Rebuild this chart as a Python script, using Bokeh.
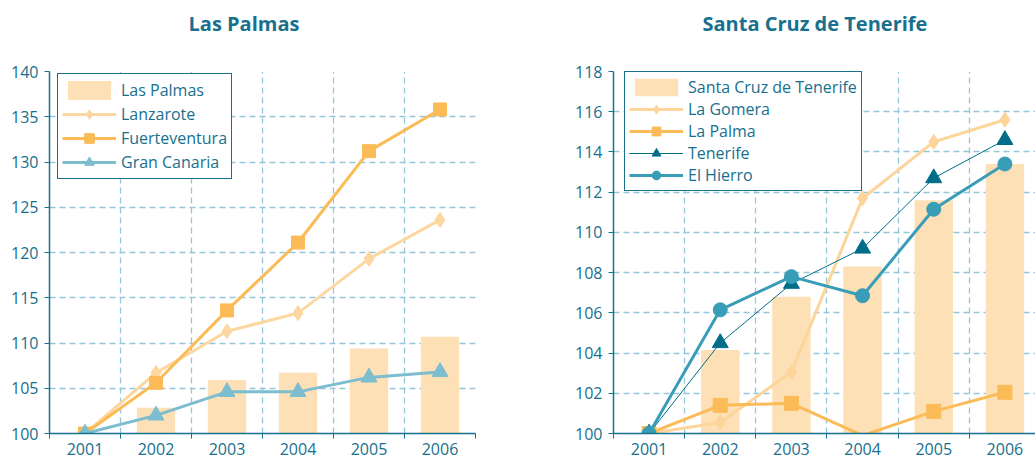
from bokeh.plotting import figure
from bokeh.layouts import row
from bokeh.models import Range1d, FixedTicker, Legend, LegendItem, Title
from bokeh.embed import file_html
from bokeh.resources import INLINE

years = ["2001", "2002", "2003", "2004", "2005", "2006"]

# Las Palmas province
las_palmas = [100, 102.85, 105.9, 106.7, 109.4, 110.7]
lanzarote = [100, 106.7, 111.3, 113.3, 119.3, 123.6]
fuerteventura = [100, 105.6, 113.6, 121.1, 131.2, 135.8]
gran_canaria = [100, 102.0, 104.6, 104.6, 106.2, 106.8]

# Santa Cruz de Tenerife province
santa_cruz = [100, 104.15, 106.8, 108.3, 111.6, 113.4]
la_gomera = [100, 100.55, 103.05, 111.7, 114.5, 115.6]
la_palma = [100, 101.4, 101.5, 99.9, 101.1, 102.05]
tenerife = [100, 104.5, 107.45, 109.2, 112.7, 114.6]
el_hierro = [100, 106.15, 107.8, 106.85, 111.15, 113.4]

left_ticks = [100, 105, 110, 115, 120, 125, 130, 135, 140]
right_ticks = [100, 102, 104, 106, 108, 110, 112, 114, 116, 118]

TEAL = "#17708e"
GRID = "#93c7d9"
BAR = "#fde0b5"
FONT = "Open Sans"


def make_fig(title, bar_name, bars, series, yticks, width, mbl, mbr, xend,
             legend_xy, glyph_h, title_offset):
    xs = [i + 0.5 for i in range(len(years))]
    y0, y1 = yticks[0], yticks[-1]
    p = figure(width=width, height=464, output_backend="svg", toolbar_location=None,
               title=None,
               x_range=Range1d(0, xend), y_range=Range1d(y0, y1),
               min_border_left=mbl, min_border_right=mbr,
               min_border_top=71, min_border_bottom=31)
    p.outline_line_color = None
    p.background_fill_color = "white"
    p.border_fill_color = "white"

    # spacer between frame and title (nearest the frame)
    p.add_layout(Title(text=" ", text_font_size="10px", standoff=20,
                       vertical_align="top"), "above")
    p.add_layout(Title(text=title, align="left", offset=title_offset,
                       vertical_align="top", text_font=FONT, text_font_size="20px",
                       text_font_style="bold", text_color=TEAL, standoff=0), "above")

    # x axis
    xa = p.xaxis[0]
    xa.ticker = FixedTicker(ticks=xs, minor_ticks=list(range(0, 7)))
    xa.major_label_overrides = {x: y for x, y in zip(xs, years)}
    xa.major_tick_out = 0
    xa.major_tick_in = 0
    xa.minor_tick_out = 5
    xa.minor_tick_in = 0
    xa.minor_tick_line_color = TEAL
    xa.axis_line_color = TEAL
    xa.axis_line_width = 1.5
    xa.major_label_text_color = TEAL
    xa.major_label_text_font = FONT
    xa.major_label_text_font_size = "16px"
    xa.major_label_standoff = 4

    ya = p.yaxis[0]
    ya.ticker = FixedTicker(ticks=yticks, minor_ticks=[])
    ya.major_tick_out = 5
    ya.major_tick_in = 0
    ya.major_tick_line_color = TEAL
    ya.axis_line_color = TEAL
    ya.axis_line_width = 1.5
    ya.major_label_text_color = TEAL
    ya.major_label_text_font = FONT
    ya.major_label_text_font_size = "16px"
    ya.major_label_standoff = 6

    p.xgrid.ticker = FixedTicker(ticks=[1, 2, 3, 4, 5, 6])
    for g in (p.xgrid[0], p.ygrid[0]):
        g.grid_line_color = GRID
        g.grid_line_dash = "6 4"
        g.grid_line_width = 1.3

    items = []
    rb = p.vbar(x=xs, top=bars, bottom=y0, width=0.54, fill_color=BAR, line_color=None)
    items.append(LegendItem(label=bar_name, renderers=[rb]))
    for name, vals, color, lw, marker, size in series:
        rl = p.line(xs, vals, line_color=color, line_width=lw)
        mx = [x for x, v in zip(xs, vals) if v >= y0]
        mv = [v for v in vals if v >= y0]
        rs = p.scatter(mx, mv, marker=marker, size=size, fill_color=color, line_color=color)
        items.append(LegendItem(label=name, renderers=[rl, rs]))

    leg = Legend(items=items, location=legend_xy)
    leg.label_text_font = FONT
    leg.label_text_font_size = "16px"
    leg.label_text_color = TEAL
    leg.border_line_color = TEAL
    leg.border_line_width = 1.2
    leg.border_line_alpha = 1
    leg.background_fill_color = "white"
    leg.background_fill_alpha = 1
    leg.glyph_width = 54
    leg.glyph_height = glyph_h
    leg.label_height = glyph_h
    leg.spacing = 0
    leg.padding = 4
    leg.margin = 0
    leg.label_standoff = 5
    p.add_layout(leg)
    return p


left_series = [
    ("Lanzarote", lanzarote, "#fdd7a0", 3, "diamond", 15),
    ("Fuerteventura", fuerteventura, "#fbbb57", 3, "square", 13),
    ("Gran Canaria", gran_canaria, "#7cbdd0", 3, "triangle", 16),
]
right_series = [
    ("La Gomera", la_gomera, "#fdd49a", 3, "diamond", 15),
    ("La Palma", la_palma, "#fbbb57", 3, "square", 14),
    ("Tenerife", tenerife, "#006d8a", 1, "triangle", 16),
    ("El Hierro", el_hierro, "#3a9db8", 3, "circle", 14),
]

p1 = make_fig("Las Palmas", "Las Palmas", las_palmas, left_series, left_ticks,
              538, 49, 63, 6, (8, 254), 24, 139)
p2 = make_fig("Santa Cruz de Tenerife", "Santa Cruz de Tenerife", santa_cruz, right_series,
              right_ticks, 497, 75, 0, 5.93, (11, 242), 22, 89)

layout = row(p1, p2)
open("out.html", "w").write(file_html(layout, INLINE))
